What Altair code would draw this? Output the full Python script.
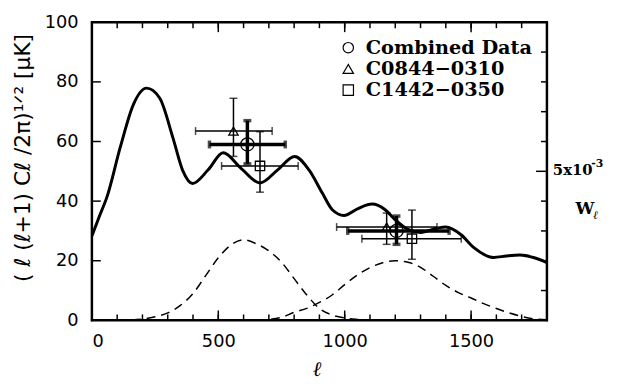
import altair as alt
import pandas as pd

# ---- model power spectrum (solid curve) ----
model_l = [0, 30, 60, 112, 164, 216, 268, 320, 359, 398, 460, 519, 590, 665, 735, 802,
           860, 912, 951, 997, 1055, 1108, 1160, 1199, 1250, 1300, 1368, 1400, 1459,
           1511, 1589, 1640, 1693, 1750, 1800]
model_v = [28.3, 35, 41.5, 58, 72.4, 77.9, 74.6, 61.4, 50.3, 45.9, 50.5, 56.2, 51, 46.1,
           50.5, 55, 50.3, 42.6, 37.1, 35.2, 37.6, 39, 37.1, 33.8, 30.5, 29.5, 31, 31.3,
           28.8, 24.4, 21.1, 21.6, 21.9, 21, 19.4]

# ---- window functions (dashed curves) ----
w1_l = [100, 200, 250, 300, 350, 400, 450, 500, 550, 600, 650, 700, 750, 800, 850,
        900, 950, 1000, 1050, 1100]
w1_v = [0, 0.4, 1.2, 2.5, 5, 9, 15, 21, 25.3, 27, 25.7, 23.3, 19.5, 14, 8.5, 4, 1.8,
        0.8, 0.3, 0]
w2_l = [650, 700, 750, 800, 850, 900, 950, 1000, 1050, 1100, 1150, 1200, 1250, 1300,
        1350, 1400, 1450, 1500, 1550, 1600, 1650, 1700, 1750, 1800]
w2_v = [0.1, 0.3, 1, 2.7, 4, 6, 8.5, 12, 15.2, 17.7, 19.3, 20, 19.5, 17.8, 14.8, 11.7,
        9.3, 7.5, 5.6, 4, 2.5, 1.3, 0.5, 0.2]

# ---- measurements ----
series_names = ["Combined Data", "C0844−0310", "C1442−0350"]
pt_series = series_names * 2
pt_l = [615, 560, 665, 1205, 1166, 1266]
pt_l_lo = [465, 410, 513, 1012, 968, 1068]
pt_l_hi = [765, 713, 816, 1413, 1365, 1461]
pt_v = [59, 63.5, 51.8, 30, 31.3, 27.4]
pt_v_lo = [52.5, 55, 43, 25.5, 25.5, 20.5]
pt_v_hi = [67, 74.5, 63.3, 35, 36, 37]

# ---- axis ticks ----
x_label_values = [0, 500, 1000, 1500]
x_minor_ticks = list(range(100, 1800, 100))
x_major_ticks = [500, 1000, 1500]
y_label_values = [0, 20, 40, 60, 80, 100]
y_left_ticks = [20, 40, 60, 80]
y_right_ticks = [10, 20, 30, 40, 60, 70, 80, 90]
y_right_major = [50]

W, H = 461, 302

model_df = pd.DataFrame({"l": model_l, "v": model_v})
w_df = pd.concat([
    pd.DataFrame({"l": w1_l, "v": w1_v, "w": "W1"}),
    pd.DataFrame({"l": w2_l, "v": w2_v, "w": "W2"}),
])
pts = pd.DataFrame({"series": pt_series, "l": pt_l, "l_lo": pt_l_lo, "l_hi": pt_l_hi,
                    "v": pt_v, "v_lo": pt_v_lo, "v_hi": pt_v_hi})
is_comb = pts["series"] == "Combined Data"

xs = alt.Scale(domain=[0, 1800], nice=False, zero=False)
ys = alt.Scale(domain=[0, 100], nice=False, zero=False)

x_axis = alt.Axis(values=x_label_values, format="d", ticks=False, domain=False, grid=False,
                  labelFont="DejaVu Sans", labelFontSize=18, labelColor="black",
                  labelPadding=12, title=None)
y_axis = alt.Axis(values=y_label_values, format="d", ticks=False, domain=False, grid=False,
                  labelFont="DejaVu Sans", labelFontSize=18, labelColor="black",
                  labelPadding=14,
                  title="( ℓ (ℓ+1) Cℓ  /2π)¹ᐟ² [μK]", titleFont="DejaVu Sans",
                  titleFontSize=22, titleFontWeight="normal", titleColor="black",
                  titleX=-70, titleY=137, titleAngle=270, titleAlign="center",
                  titleBaseline="middle")

X = lambda f="l": alt.X(f"{f}:Q", scale=xs, axis=x_axis)
Y = lambda f="v": alt.Y(f"{f}:Q", scale=ys, axis=y_axis)

dashed = alt.Chart(w_df).mark_line(color="black", strokeWidth=1.5, strokeDash=[9, 6],
                                   interpolate="monotone", clip=True).encode(
    x=X(), y=Y(), detail="w:N")
solid = alt.Chart(model_df).mark_line(color="black", strokeWidth=3,
                                      interpolate="monotone", clip=True).encode(x=X(), y=Y())


def errbars(df, sw, cap):
    base = alt.Chart(df)
    h = base.mark_rule(color="black", strokeWidth=sw).encode(
        x=X("l_lo"), x2="l_hi:Q", y=Y())
    v = base.mark_rule(color="black", strokeWidth=sw).encode(
        x=X(), y=Y("v_lo"), y2="v_hi:Q")
    c1 = base.mark_tick(color="black", orient="vertical", size=cap, thickness=sw).encode(
        x=X("l_lo"), y=Y())
    c2 = base.mark_tick(color="black", orient="vertical", size=cap, thickness=sw).encode(
        x=X("l_hi"), y=Y())
    c3 = base.mark_tick(color="black", orient="horizontal", size=cap, thickness=sw).encode(
        x=X(), y=Y("v_lo"))
    c4 = base.mark_tick(color="black", orient="horizontal", size=cap, thickness=sw).encode(
        x=X(), y=Y("v_hi"))
    return [h, v, c1, c2, c3, c4]


shape_scale = alt.Scale(domain=series_names, range=["circle", "triangle-up", "square"])
legend = alt.Legend(orient="none", legendX=250, legendY=16, title=None,
                    labelFont="DejaVu Serif", labelFontWeight="bold",
                    labelFontSize=19.5, labelColor="black", labelLimit=0,
                    symbolStrokeColor="black", symbolStrokeWidth=1.2,
                    symbolFillColor="transparent", symbolSize=110,
                    labelOffset=8, rowPadding=0.5, padding=0)

points_comb = alt.Chart(pts[is_comb]).mark_point(
    filled=False, color="black", strokeWidth=1.3, opacity=1, size=180).encode(
    x=X(), y=Y(), shape=alt.Shape("series:N", scale=shape_scale, legend=legend))
points_other = alt.Chart(pts[~is_comb]).mark_point(
    filled=False, color="black", strokeWidth=1.3, opacity=1, size=90).encode(
    x=X(), y=Y(), shape=alt.Shape("series:N", scale=shape_scale, legend=legend))


def tick_rules(vals, kind, a, b, sw=1.5):
    df = pd.DataFrame({"t": vals})
    base = alt.Chart(df).mark_rule(color="black", strokeWidth=sw, opacity=1)
    if kind == "x":
        return base.encode(x=alt.X("t:Q", scale=xs, axis=x_axis), y=alt.value(a), y2=alt.value(b))
    return base.encode(y=alt.Y("t:Q", scale=ys, axis=y_axis), x=alt.value(a), x2=alt.value(b))


ticks = [
    tick_rules(x_minor_ticks, "x", H, H - 6),
    tick_rules(x_major_ticks, "x", H, H - 10),
    tick_rules(x_minor_ticks, "x", 0, 6),
    tick_rules(x_major_ticks, "x", 0, 10),
    tick_rules(y_left_ticks, "y", 0, 9),
    tick_rules(y_right_ticks, "y", W, W - 6),
    tick_rules(y_right_major, "y", W, W - 11),
    # frame
    tick_rules([0, 1800], "x", -1, H + 1, 2.5),
    tick_rules([0, 100], "y", -1, W + 1, 2.5),
]

lab_df = pd.DataFrame({"k": [0]})
txt = lambda s, x, y, size, **kw: alt.Chart(lab_df).mark_text(
    text=s, font="DejaVu Serif", fontWeight="bold", fontSize=size, color="black",
    align="left", baseline="middle", **kw).encode(x=alt.value(x), y=alt.value(y))

texts = [
    txt("5x10", 467, 150, 15),
    txt("-3", 506, 144, 11),
    txt("W", 490, 189, 17),
    txt("ℓ", 508, 195, 12, fontStyle="italic"),
    txt("ℓ", 224, 352, 21, fontStyle="italic"),
]

chart = alt.layer(dashed, solid, *errbars(pts[~is_comb], 1.5, 8),
                  *errbars(pts[is_comb], 3.5, 8),
                  points_comb, points_other, *ticks, *texts).properties(
    width=W, height=H,
    autosize=alt.AutoSizeParams(type="none"),
    padding={"left": 85, "top": 12, "right": 72, "bottom": 60},
    background="white",
).configure_view(stroke=None)

chart.save("out.html", embed_options={"renderer": "svg", "actions": False})
